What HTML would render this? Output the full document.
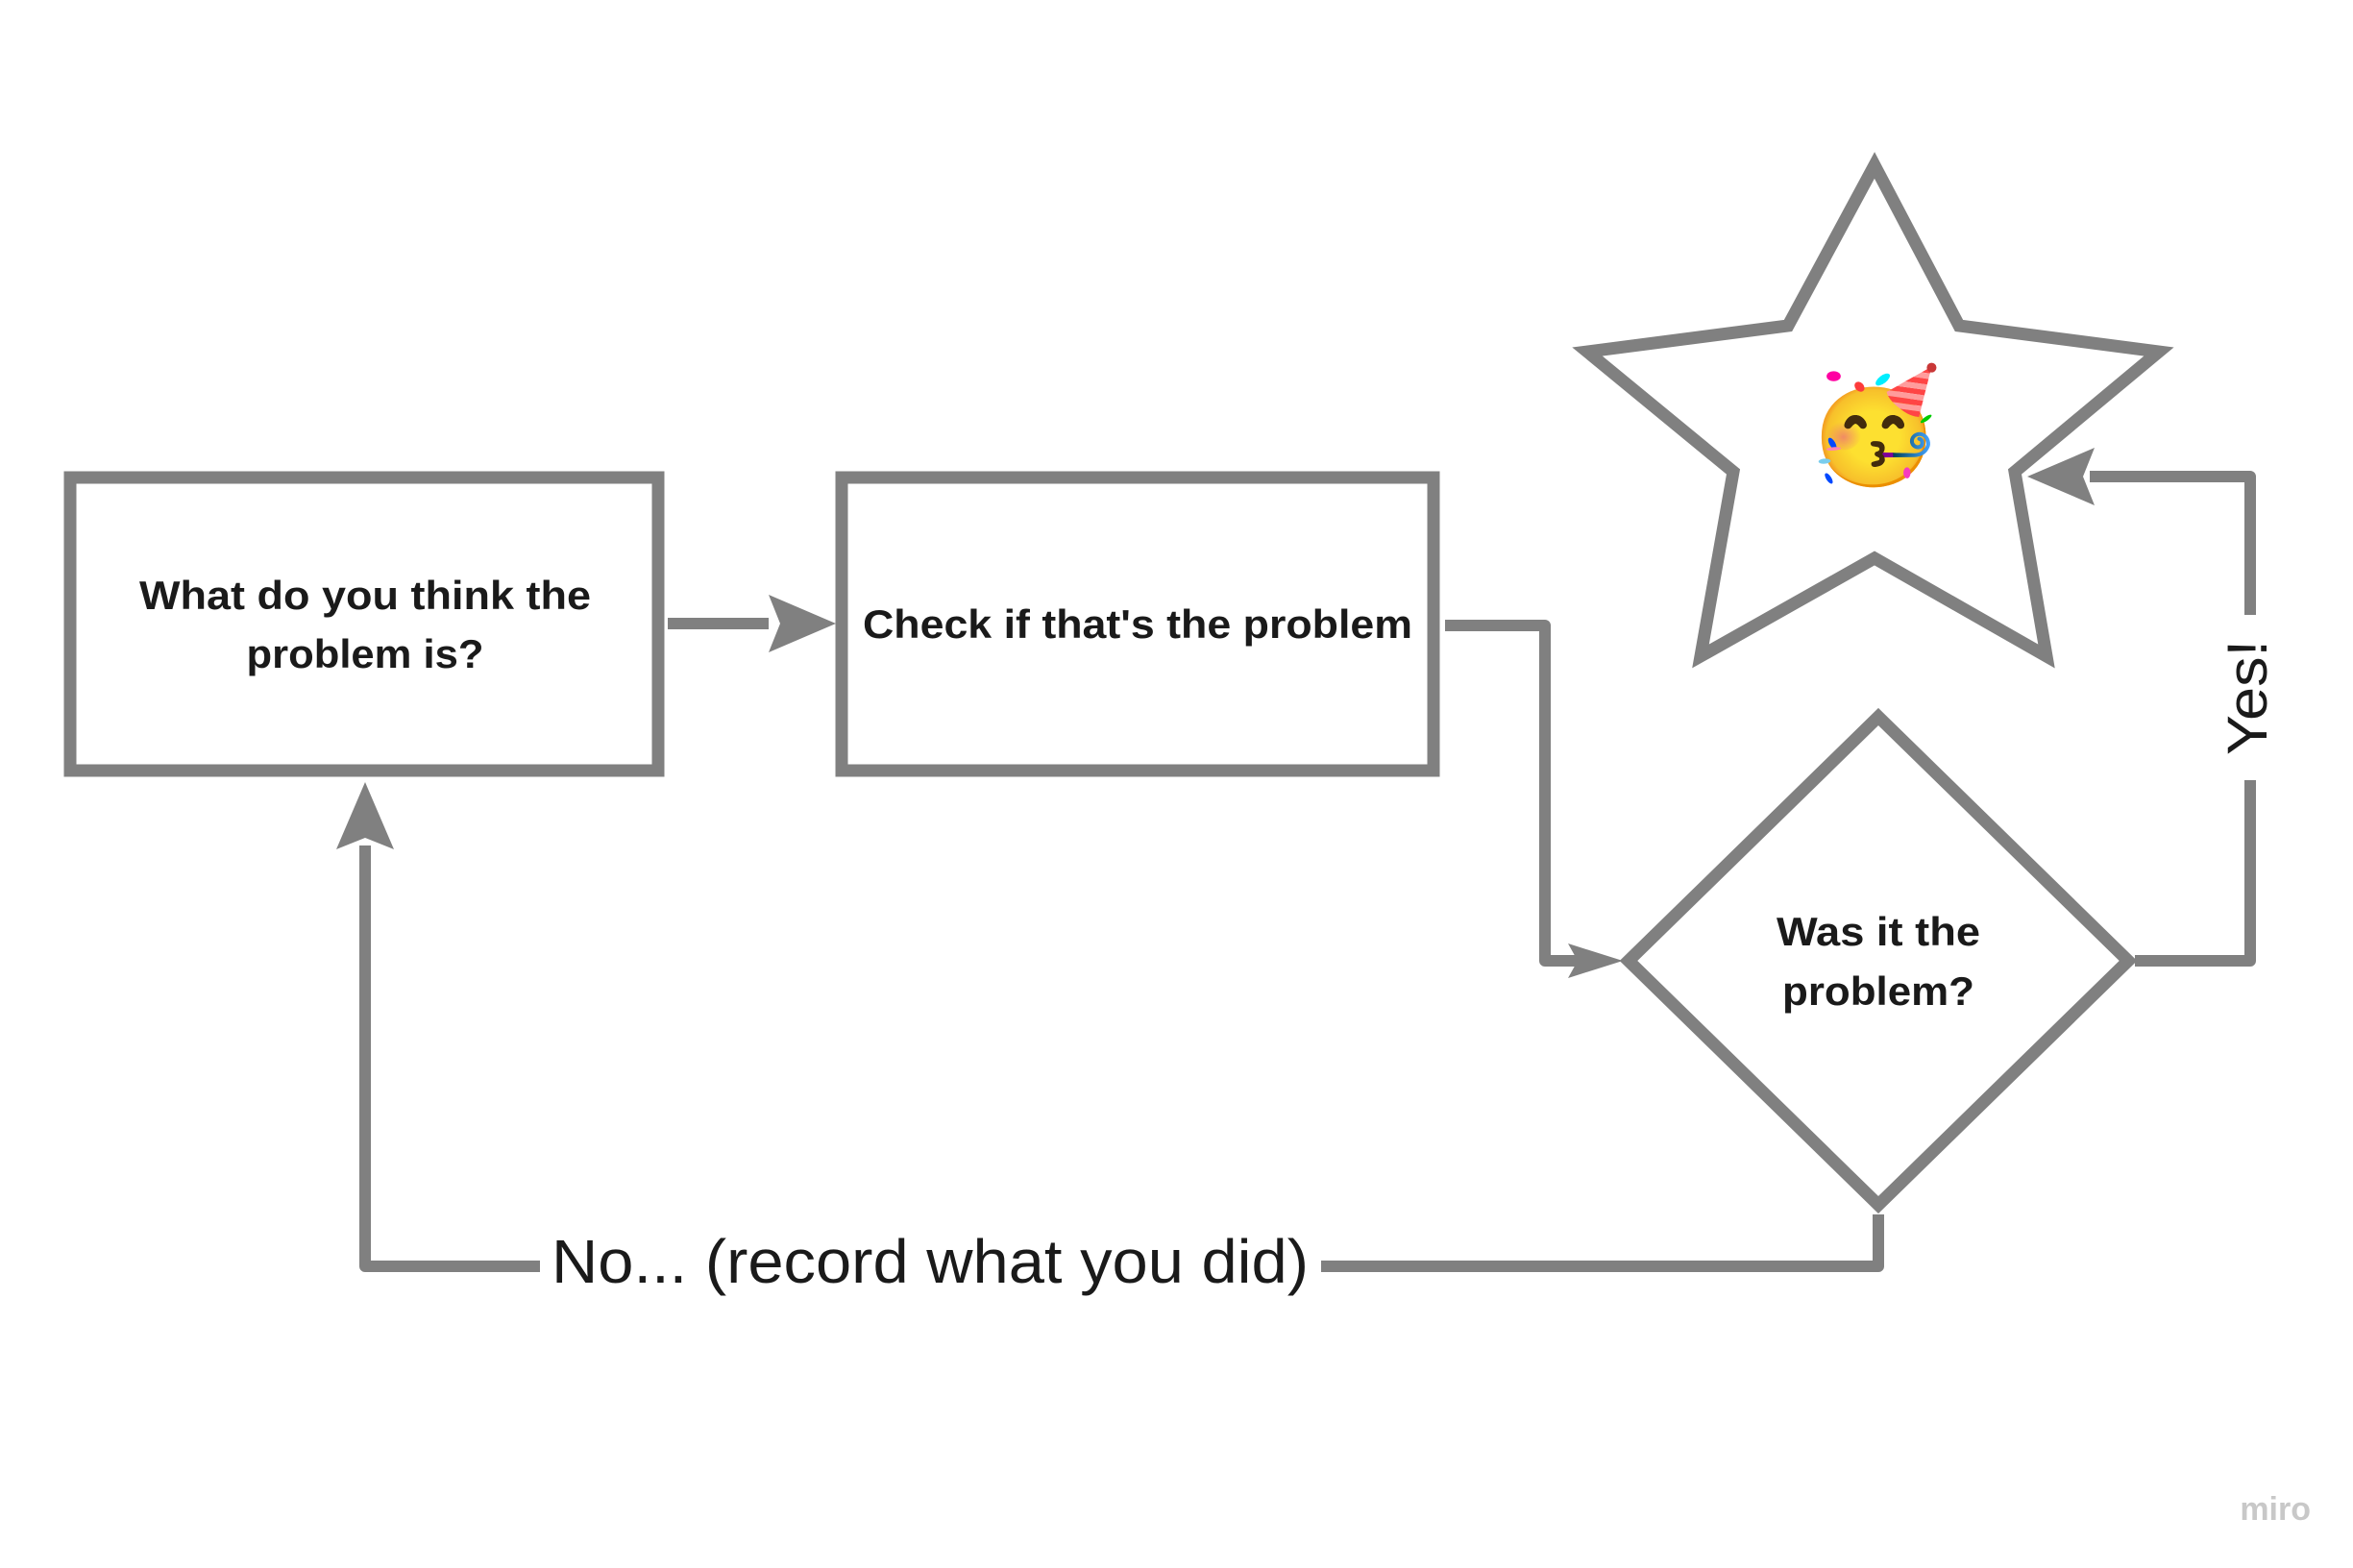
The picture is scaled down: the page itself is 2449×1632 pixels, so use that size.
<!DOCTYPE html>
<html><head><meta charset="utf-8"><style>
html,body{margin:0;padding:0;background:#fff;}
svg{display:block}
</style></head><body>
<svg width="2449" height="1632" viewBox="0 0 2449 1632" xmlns="http://www.w3.org/2000/svg">
<rect width="2449" height="1632" fill="#fff"/>
<g fill="none" stroke="#808080" stroke-width="13" stroke-linejoin="miter">
  <rect x="73" y="497" width="612" height="305"/>
  <rect x="876" y="497" width="616" height="305"/>
  <polygon points="1951,172 2039,339 2247,366 2097,491 2130,683 1951,581 1770,683 1804,491 1652,366 1861,339"/>
  <polygon points="1955,746 2215,1000 1955,1254 1695,1000"/>
</g>
<g fill="none" stroke="#808080" stroke-width="12" stroke-linejoin="round" stroke-linecap="butt">
  <line x1="695" y1="649" x2="800" y2="649"/>
  <polyline points="1504,651 1608,651 1608,1000 1642,1000"/>
  <polyline points="2222,1000 2342,1000 2342,812"/>
  <polyline points="2342,640 2342,496 2175,496"/>
  <polyline points="1955,1264 1955,1318 1375,1318"/>
  <polyline points="562,1318 380,1318 380,880"/>
</g>
<g fill="#808080">
  <polygon points="870,649 800,619 812,649 800,679"/>
  <polygon points="1689,1000 1632,982 1642,1000 1632,1018"/>
  <polygon points="2110,496 2180,466 2168,496 2180,526"/>
  <polygon points="380,814 350,884 380,872 410,884"/>
</g>
<g font-family="'Liberation Sans', sans-serif" font-weight="bold" fill="#1a1a1a" text-anchor="middle" font-size="42">
  <text x="380" y="634" textLength="470" lengthAdjust="spacingAndGlyphs">What do you think the</text>
  <text x="380" y="695" textLength="247" lengthAdjust="spacingAndGlyphs">problem is?</text>
  <text x="1184" y="664" textLength="572" lengthAdjust="spacingAndGlyphs">Check if that's the problem</text>
  <text x="1955" y="984" textLength="212" lengthAdjust="spacingAndGlyphs">Was it the</text>
  <text x="1955" y="1046" textLength="200" lengthAdjust="spacingAndGlyphs">problem?</text>
</g>
<text x="574" y="1335" font-family="'Liberation Sans', sans-serif" font-size="64" fill="#1a1a1a" textLength="788" lengthAdjust="spacingAndGlyphs">No... (record what you did)</text>
<text transform="translate(2359,726) rotate(-90)" text-anchor="middle" font-family="'Liberation Sans', sans-serif" font-size="58" fill="#1a1a1a" textLength="120" lengthAdjust="spacingAndGlyphs">Yes!</text>
<text x="1951" y="444" text-anchor="middle" dominant-baseline="central" font-size="115" font-family="'Noto Color Emoji','DejaVu Sans',sans-serif">🥳</text>
<text x="2405" y="1582" text-anchor="end" font-family="'Liberation Sans', sans-serif" font-weight="bold" font-size="34" fill="#c8c8c8">miro</text>
</svg>
</body></html>
